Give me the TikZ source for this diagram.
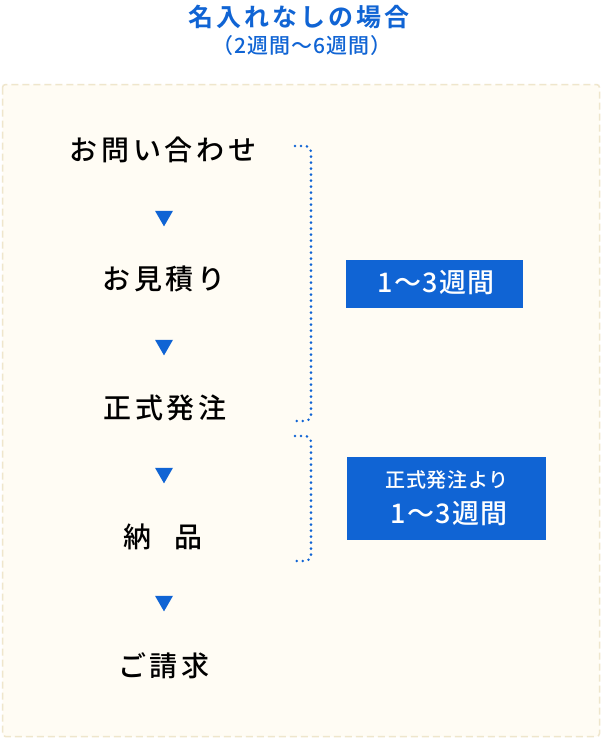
\documentclass[tikz,border=0pt]{standalone}
\usepackage{fontspec}
\setmainfont{Noto Sans CJK JP}
\newfontfamily\jp[LetterSpace=13]{Noto Sans CJK JP Medium}
\newfontfamily\jpb[LetterSpace=12]{Noto Sans CJK JP Bold}
\newfontfamily\jpm[LetterSpace=5]{Noto Sans CJK JP Medium}
\newfontfamily\jpw[LetterSpace=3]{Noto Sans CJK JP Medium}
\usetikzlibrary{shapes.geometric}
\definecolor{mainblue}{HTML}{1064D4}
\definecolor{cream}{HTML}{FFFCF4}
\definecolor{dashc}{HTML}{EFE6CC}
\tikzset{
  stepnode/.style={font=\fontsize{28}{30}\selectfont\jp, text=black, inner sep=0pt, anchor=center},
  tri/.style={fill=mainblue, draw=none, isosceles triangle, isosceles triangle apex angle=60, shape border rotate=-90, minimum width=18pt, minimum height=15pt, inner sep=0pt},
  bracket/.style={draw=mainblue, line width=2.8pt, dash pattern=on 0pt off 6pt, line cap=round, rounded corners=6pt},
  boxtext/.style={font=\fontsize{27}{29}\selectfont\jpm, text=white, inner sep=0pt}
}
\begin{document}
\begin{tikzpicture}[x=1pt,y=-1pt]
\useasboundingbox (0,0) rectangle (602,739);
\fill[white] (0,0) rectangle (602,739);
\draw[dashc, fill=cream, line width=1.5pt, dash pattern=on 7pt off 4pt, rounded corners=3pt] (2.5,84.5) rectangle (599.5,736.5);
% title
\node[font=\fontsize{25}{28}\selectfont\jpb, text=mainblue, inner sep=0pt] (title) at (299,17) {名入れなしの場合};
\node[font=\fontsize{21}{23}\selectfont\jpm, text=mainblue, inner sep=0pt] (sub) at (302,46) {（2週間〜6週間）};
% steps
\node[stepnode] (s1) at (163,150) {お問い合わせ};
\node[stepnode] (s2) at (164,279) {お見積り};
\node[stepnode] (s3) at (165,408) {正式発注};
\node[stepnode] (s4) at (163,537) {納\hspace{24pt}品};
\node[stepnode] (s5) at (164,666) {ご請求};
% triangles
\node[tri] (t1) at (164,216) {};
\node[tri] (t2) at (164,345) {};
\node[tri] (t3) at (164,473) {};
\node[tri] (t4) at (164,601) {};
% brackets
\coordinate (b1a) at (295,146);
\coordinate (b1b) at (311,146);
\coordinate (b1c) at (311,421);
\coordinate (b1d) at (296,421);
\draw[bracket] (b1a) -- (b1b) -- (b1c) -- (b1d);
\coordinate (b2a) at (295,436);
\coordinate (b2b) at (311,436);
\coordinate (b2c) at (311,561);
\coordinate (b2d) at (296,561);
\draw[bracket] (b2a) -- (b2b) -- (b2c) -- (b2d);
% blue boxes
\fill[mainblue] (346,260) rectangle (523,308);
\node[boxtext] (w1) at (436,283) {1〜3週間};
\fill[mainblue] (347,457) rectangle (546,540);
\node[font=\fontsize{20}{22}\selectfont\jpw, text=white, inner sep=0pt] (w2) at (447,480) {正式発注より};
\node[boxtext] (w3) at (449,514) {1〜3週間};
\end{tikzpicture}
\end{document}
